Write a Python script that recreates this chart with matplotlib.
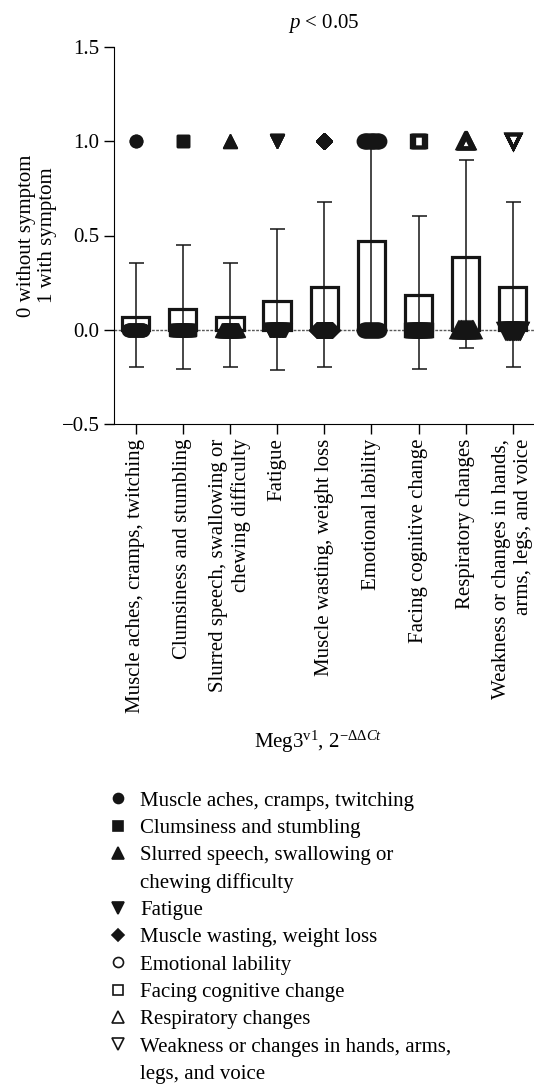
import numpy as np
import matplotlib.pyplot as plt
from matplotlib.lines import Line2D

plt.rcParams['font.family'] = ['Liberation Serif', 'DejaVu Serif']
plt.rcParams['mathtext.fontset'] = 'custom'
plt.rcParams['mathtext.rm'] = 'Liberation Serif'
plt.rcParams['mathtext.it'] = 'Liberation Serif:italic'

# sintomas
sintomas = ['Muscle aches, cramps, twitching',
            'Clumsiness and stumbling',
            'Slurred speech, swallowing or\nchewing difficulty',
            'Fatigue',
            'Muscle wasting, weight loss',
            'Emotional lability',
            'Facing cognitive change',
            'Respiratory changes',
            'Weakness or changes in hands,\narms, legs, and voice']

# etiquetas de la leyenda (cortes de linea propios)
etiquetas = ['Muscle aches, cramps, twitching',
             'Clumsiness and stumbling',
             'Slurred speech, swallowing or\nchewing difficulty',
             'Fatigue',
             'Muscle wasting, weight loss',
             'Emotional lability',
             'Facing cognitive change',
             'Respiratory changes',
             'Weakness or changes in hands, arms,\nlegs, and voice']

# media y limites de las barras de error
media = [0.067, 0.11, 0.067, 0.15, 0.229, 0.469, 0.187, 0.388, 0.229]
err_alto = [0.356, 0.45, 0.356, 0.533, 0.676, 0.97, 0.605, 0.898, 0.676]
err_bajo = [-0.197, -0.21, -0.197, -0.212, -0.196, -0.03, -0.206, -0.099, -0.196]

# numero de pacientes sin (0) y con (1) sintoma
n_sin = [28, 27, 28, 26, 24, 16, 25, 19, 24]
n_con = [2, 3, 2, 4, 7, 14, 6, 12, 7]

# estilo de los marcadores
marcadores = ['o', 's', '^', 'v', 'D', 'o', 's', '^', 'v']
tamanos = [9, 9, 10, 10, 8, 9, 9, 10, 10]
rellenos = [True, True, True, True, True, False, False, False, False]
ancho_con = [0, 0, 0, 0, 0, 0.32, 0.05, 0.05, 0]
ancho_sin = 0.32

negro = '#151515'
x = np.arange(len(sintomas))

fig = plt.figure(figsize=(5.34, 10.85), dpi=100)
ax = fig.add_axes([114 / 534, 1 - 424 / 1085, 420 / 534, 377 / 1085])

ax.axhline(0, color='0.35', ls=(0, (2, 1)), lw=1, zorder=1)
ax.bar(x, media, width=0.58, fill=False, edgecolor=negro, linewidth=2.3, zorder=2)
media_a = np.array(media)
ax.errorbar(x, media, yerr=[media_a - np.array(err_bajo), np.array(err_alto) - media_a],
            fmt='none', ecolor=negro, elinewidth=1.1, capsize=5.4, capthick=1.1, zorder=3)

for i in range(len(sintomas)):
    fc = negro if rellenos[i] else 'none'
    mew = 1 if rellenos[i] else 2.4
    xs0 = x[i] + np.linspace(-ancho_sin / 2, ancho_sin / 2, n_sin[i])
    xs1 = x[i] + np.linspace(-ancho_con[i] / 2, ancho_con[i] / 2, n_con[i])
    ax.plot(xs0, np.zeros(n_sin[i]), ls='none', marker=marcadores[i], ms=tamanos[i],
            mfc=fc, mec=negro, mew=mew, zorder=4)
    ax.plot(xs1, np.ones(n_con[i]), ls='none', marker=marcadores[i], ms=tamanos[i],
            mfc=fc, mec=negro, mew=mew, zorder=4)

ax.set_xlim(-0.46, 8.45)
ax.set_ylim(-0.5, 1.5)
ax.set_yticks([-0.5, 0, 0.5, 1.0, 1.5])
ax.set_yticklabels(['\u22120.5', '0.0', '0.5', '1.0', '1.5'])
ax.set_xticks(x)
ax.set_xticklabels(sintomas, rotation=90, ha='center', va='top', multialignment='right')
ax.tick_params(axis='both', labelsize=15, length=7, width=1, direction='out')
ax.spines['top'].set_visible(False)
ax.spines['right'].set_visible(False)
ax.set_ylabel('0 without symptom\n1 with symptom', fontsize=15, labelpad=3)
ax.set_title(r'$p$ < 0.05', fontsize=15, pad=14)

fig.text(318 / 534, 1 - 742 / 1085, 'Meg3$^{\\mathrm{v1}}$, 2$^{\\mathrm{−}\\mathit{ΔΔCt}}$',
         ha='center', va='center', fontsize=15)

# leyenda: las etiquetas de dos lineas se parten en dos filas para que el
# marcador quede a la altura de la primera linea
handles, textos = [], []
for i, et in enumerate(etiquetas):
    lineas = et.split('\n')
    handles.append(Line2D([], [], ls='none', marker=marcadores[i], ms=tamanos[i] - 1.8,
                          mfc=negro if rellenos[i] else 'white', mec=negro, mew=1.2))
    textos.append(lineas[0])
    for resto in lineas[1:]:
        handles.append(Line2D([], [], ls='none', marker=None))
        textos.append(resto)
fig.legend(handles, textos, loc='upper left', bbox_to_anchor=(108 / 534, 1 - 791 / 1085),
           frameon=False, fontsize=15, handlelength=1, handletextpad=0.55,
           labelspacing=0.37, borderpad=0, borderaxespad=0)

fig.savefig('out.png', dpi=100)
